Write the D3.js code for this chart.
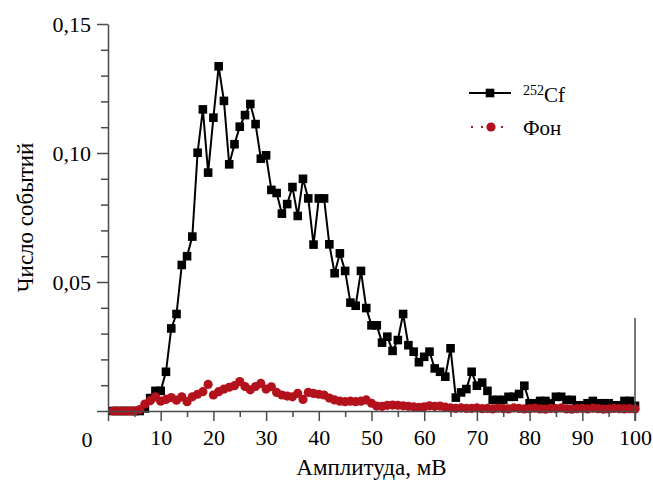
<!DOCTYPE html>
<html>
<head>
<meta charset="utf-8">
<script src="https://cdn.jsdelivr.net/npm/d3@7"></script>
<style>
  html, body { margin: 0; padding: 0; background: #fff; }
  svg { display: block; }
</style>
</head>
<body>
<div id="container"></div>
<script>
// amplitude, mV
const amplitude = d3.range(1, 101);

// 252Cf spectrum, one value per mV (1..100)
const cf252 = [
  0, 0, 0, 0, 0, 0, 0.001, 0.005, 0.0078, 0.0078,
  0.0152, 0.032, 0.0376, 0.0566, 0.060, 0.0676, 0.1001, 0.1169, 0.0924, 0.1137,
  0.1336, 0.1202, 0.0956, 0.1034, 0.1102, 0.1147, 0.119, 0.1112, 0.0978, 0.0991,
  0.0857, 0.0845, 0.0765, 0.0802, 0.0868, 0.0756, 0.090, 0.0824, 0.0645, 0.0824,
  0.0824, 0.0646, 0.0534, 0.0611, 0.0543, 0.042, 0.0408, 0.0543, 0.0399, 0.0332,
  0.0332, 0.0265, 0.0288, 0.0233, 0.0275, 0.0376, 0.0255, 0.023, 0.0189, 0.021,
  0.023, 0.0165, 0.0152, 0.0133, 0.0243, 0.0052, 0.0072, 0.0085, 0.0152, 0.0098,
  0.011, 0.0078, 0.0043, 0.0043, 0.0043, 0.0055, 0.0055, 0.0066, 0.0098, 0.003,
  0.003, 0.0039, 0.0039, 0.003, 0.0055, 0.0055, 0.0043, 0.0043, 0.0022, 0.0022,
  0.003, 0.0039, 0.003, 0.003, 0.003, 0.0022, 0.0022, 0.0039, 0.0039, 0.002
];

// background ("Фон"), one value per mV (1..100)
const background = [
  0, 0, 0, 0, 0, 0.0005, 0.0027, 0.004, 0.0055, 0.0038,
  0.0045, 0.0052, 0.0042, 0.0055, 0.0036, 0.0055, 0.0065, 0.0075, 0.0103, 0.0062,
  0.0075, 0.0085, 0.0092, 0.0098, 0.0114, 0.0095, 0.0082, 0.0095, 0.0107, 0.0085,
  0.0094, 0.0072, 0.0062, 0.0058, 0.0055, 0.0068, 0.0045, 0.0072, 0.0068, 0.0065,
  0.0062, 0.005, 0.0043, 0.0038, 0.0036, 0.0038, 0.0036, 0.0038, 0.0043, 0.003,
  0.0019, 0.0018, 0.0022, 0.0023, 0.0022, 0.002, 0.0018, 0.0016, 0.0014, 0.0016,
  0.002, 0.0018, 0.0019, 0.0015, 0.0012, 0.001, 0.0012, 0.001, 0.001, 0.0012,
  0.0009, 0.001, 0.0008, 0.0011, 0.0009, 0.0008, 0.0012, 0.001, 0.0008, 0.0009,
  0.0011, 0.0008, 0.0007, 0.001, 0.0009, 0.0012, 0.0008, 0.0007, 0.0009, 0.001,
  0.0008, 0.0011, 0.0009, 0.0007, 0.0008, 0.001, 0.0009, 0.0008, 0.0009, 0.0008
];

const xTicks = [10, 20, 30, 40, 50, 60, 70, 80, 90, 100];
const yTicks = [0, 0.05, 0.10, 0.15];

const width = 653;
const height = 484;
const marginLeft = 108;
const marginRight = 18;
const marginTop = 24;
const marginBottom = 73;
const font = "'Liberation Serif', 'Times New Roman', serif";
const axisColor = "#4a4a4a";
const red = "#b3111b";

const x = d3.scaleLinear()
  .domain([0, 100])
  .range([marginLeft, width - marginRight]);

const y = d3.scaleLinear()
  .domain([0, 0.15])
  .range([height - marginBottom, marginTop]);

const svg = d3.create("svg")
  .attr("width", width)
  .attr("height", height)
  .style("font-family", font);

const cfData = amplitude.map((a, i) => [a, cf252[i]]);
const bgData = amplitude.map((a, i) => [a, background[i]]);

const line = d3.line()
  .x(d => x(d[0]))
  .y(d => y(d[1]));

// 252Cf series
svg.append("path")
  .datum(cfData)
  .attr("fill", "none")
  .attr("stroke", "#000")
  .attr("stroke-width", 2)
  .attr("d", line);

svg.append("g")
  .selectAll()
  .data(cfData)
  .join("rect")
  .attr("x", d => x(d[0]) - 4.3)
  .attr("y", d => y(d[1]) - 4.3)
  .attr("width", 8.6)
  .attr("height", 8.6)
  .attr("fill", "#000");

// background series
svg.append("g")
  .selectAll()
  .data(bgData)
  .join("circle")
  .attr("cx", d => x(d[0]))
  .attr("cy", d => y(d[1]))
  .attr("r", 4.6)
  .attr("fill", red);

// minor ticks
svg.append("g")
  .attr("transform", `translate(0,${y(0)})`)
  .call(d3.axisBottom(x).tickValues(d3.range(5, 100, 10)).tickSize(6).tickFormat(""))
  .call(g => g.select(".domain").remove());

svg.append("g")
  .attr("transform", `translate(${marginLeft},0)`)
  .call(d3.axisLeft(y).tickValues(d3.range(0.01, 0.15, 0.01).filter(v => Math.round(v * 100) % 5 !== 0)).tickSize(7).tickFormat(""))
  .call(g => g.select(".domain").remove());

// x axis
svg.append("g")
  .attr("transform", `translate(0,${y(0)})`)
  .call(d3.axisBottom(x).tickValues([0, ...xTicks]).tickSize(10).tickPadding(8).tickSizeOuter(0)
    .tickFormat(d => d === 0 ? "" : d))
  .call(g => g.selectAll("text").attr("font-size", 22).attr("font-family", font).attr("fill", "#000"));

// y axis
svg.append("g")
  .attr("transform", `translate(${marginLeft},0)`)
  .call(d3.axisLeft(y).tickValues(yTicks).tickSize(11).tickPadding(6).tickSizeOuter(0)
    .tickFormat(d => d === 0 ? "" : d3.format(".2f")(d).replace(".", ",")))
  .call(g => g.selectAll("text").attr("font-size", 22).attr("font-family", font).attr("fill", "#000"));

// short right edge line seen at the end of the x axis
svg.append("line")
  .attr("x1", x(100)).attr("x2", x(100))
  .attr("y1", y(0.036)).attr("y2", y(0) + 10);

svg.selectAll(".domain, .tick line, svg > line")
  .attr("stroke", axisColor)
  .attr("stroke-width", 1.5);

// origin label
svg.append("text")
  .attr("x", x(0) - 21)
  .attr("y", y(0) + 36)
  .attr("text-anchor", "middle")
  .attr("font-size", 22)
  .text("0");

// axis titles
svg.append("text")
  .attr("x", (x(0) + x(100)) / 2)
  .attr("y", 475)
  .attr("text-anchor", "middle")
  .attr("font-size", 23)
  .text("Амплитуда, мВ");

svg.append("text")
  .attr("transform", `translate(33,${(y(0) + y(0.15)) / 2}) rotate(-90)`)
  .attr("text-anchor", "middle")
  .attr("font-size", 23)
  .text("Число событий");

// legend
const legend = svg.append("g").attr("transform", "translate(469,93)");

legend.append("line")
  .attr("x1", 0).attr("x2", 42)
  .attr("stroke", "#000").attr("stroke-width", 2);
legend.append("rect")
  .attr("x", 21 - 4.3).attr("y", -4.3)
  .attr("width", 8.6).attr("height", 8.6);
const t1 = legend.append("text")
  .attr("x", 54).attr("y", 9)
  .attr("font-size", 21);
t1.append("tspan").attr("font-size", 14).attr("dy", -7).text("252");
t1.append("tspan").attr("dy", 7).text("Cf");

legend.append("line")
  .attr("x1", 2).attr("x2", 42)
  .attr("y1", 34).attr("y2", 34)
  .attr("stroke", red).attr("stroke-width", 2.2)
  .attr("stroke-dasharray", "2,8");
legend.append("circle")
  .attr("cx", 22).attr("cy", 34).attr("r", 4.6)
  .attr("fill", red);
legend.append("text")
  .attr("x", 54).attr("y", 42)
  .attr("font-size", 21)
  .text("Фон");

d3.select("#container").append(() => svg.node());
</script>
</body>
</html>
